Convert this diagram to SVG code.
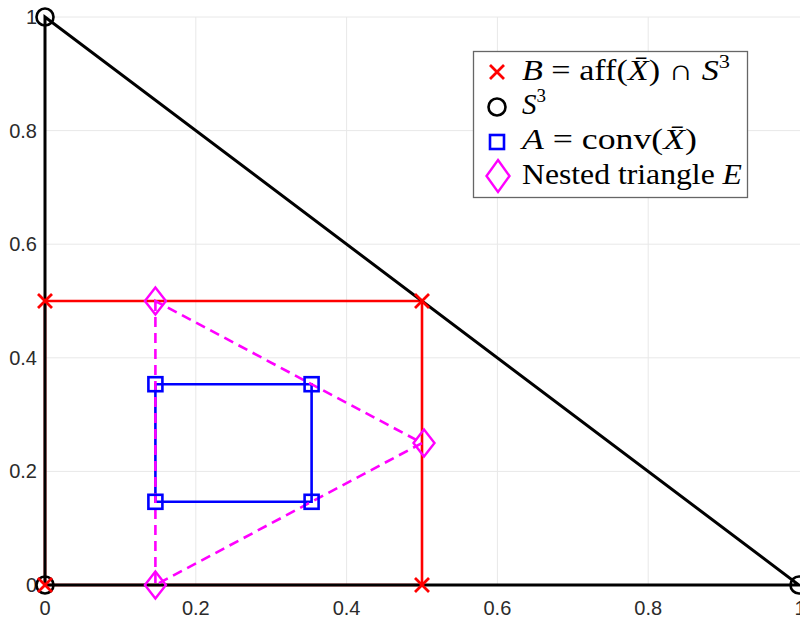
<svg xmlns="http://www.w3.org/2000/svg" width="800" height="619" viewBox="0 0 800 619">
<style>
.grid{stroke:#e8e8e8;stroke-width:1;fill:none}
.tick{font-family:"Liberation Sans",Arial,sans-serif;font-size:20px;fill:#2b2b2b}
.tx{text-anchor:middle}
.ty{text-anchor:end;dominant-baseline:central}
.blk{stroke:#000;stroke-width:3;fill:none}
.red{stroke:#f00;stroke-width:2.6;fill:none}
.blu{stroke:#00f;stroke-width:2.6;fill:none}
.mag{stroke:#f0f;stroke-width:2.6;fill:none;stroke-dasharray:10,6}
.mk-x{stroke:#f00;stroke-width:2.8;fill:none}
.mk-o{stroke:#000;stroke-width:2.6;fill:none}
.mk-s{stroke:#00f;stroke-width:2.6;fill:none}
.mk-d{stroke:#f0f;stroke-width:2.4;fill:none}
.leg{font-family:"Liberation Serif","Times New Roman",serif;font-size:29px;fill:#000}
.it{font-style:italic}
</style>
<defs>
<path id="mx" d="M-7,-7L7,7M-7,7L7,-7"/>
<circle id="mo" r="8.5"/>
<rect id="ms" x="-7" y="-7" width="14" height="14"/>
<path id="md" d="M0,-13.5L10.5,0L0,13.5L-10.5,0Z"/>
</defs>
<rect width="800" height="619" fill="#fff"/>
<g id="grid" class="grid">
<path d="M195.8,17V585M346.6,17V585M497.4,17V585M648.2,17V585M45,17H800M45,471.4H800M45,357.8H800M45,244.2H800M45,130.6H800"/>
</g>
<g id="ticks">
<text class="tick tx" x="45" y="615">0</text>
<text class="tick tx" x="195.8" y="615">0.2</text>
<text class="tick tx" x="346.6" y="615">0.4</text>
<text class="tick tx" x="497.4" y="615">0.6</text>
<text class="tick tx" x="648.2" y="615">0.8</text>
<text class="tick tx" x="800" y="615">1</text>
<text class="tick ty" x="37" y="585">0</text>
<text class="tick ty" x="37" y="471.4">0.2</text>
<text class="tick ty" x="37" y="357.8">0.4</text>
<text class="tick ty" x="37" y="244.2">0.6</text>
<text class="tick ty" x="37" y="130.6">0.8</text>
<text class="tick ty" x="37" y="17">1</text>
</g>
<g id="connectors">
<path class="red" d="M45,585H422V301H45Z"/>
<path class="blk" d="M45,585L45,17L799,585Z"/>
<path class="blu" d="M155.4,501.8H311.6V384.2H155.4Z"/>
<path class="mag" d="M155.4,301L155.4,585L422,443Z"/>
</g>
<g id="S3">
<use href="#mo" class="mk-o" x="45" y="585"/>
<use href="#mo" class="mk-o" x="799" y="585"/>
<use href="#mo" class="mk-o" x="45" y="17"/>
</g>
<g id="B">
<use href="#mx" class="mk-x" x="45" y="585"/>
<use href="#mx" class="mk-x" x="422" y="585"/>
<use href="#mx" class="mk-x" x="422" y="301"/>
<use href="#mx" class="mk-x" x="45" y="301"/>
</g>
<g id="A">
<use href="#ms" class="mk-s" x="155.4" y="501.8"/>
<use href="#ms" class="mk-s" x="311.6" y="501.8"/>
<use href="#ms" class="mk-s" x="311.6" y="384.2"/>
<use href="#ms" class="mk-s" x="155.4" y="384.2"/>
</g>
<g id="E">
<use href="#md" class="mk-d" x="155.4" y="301"/>
<use href="#md" class="mk-d" x="155.4" y="585"/>
<use href="#md" class="mk-d" x="424" y="443"/>
</g>
<g id="legend">
<rect x="473.5" y="51.5" width="274" height="146" fill="#fff" stroke="#666" stroke-width="1.3"/>
<use href="#mx" class="mk-x" x="497" y="72"/>
<use href="#mo" class="mk-o" x="497" y="107"/>
<use href="#ms" class="mk-s" x="497" y="142"/>
<path class="mk-d" d="M498,160L509.5,176L498,192L486.5,176Z"/>
<text class="leg" x="522" y="80" textLength="208" lengthAdjust="spacingAndGlyphs"><tspan class="it">B</tspan> = aff(<tspan class="it">X̄</tspan>) ∩ <tspan class="it">S</tspan><tspan font-size="19" dy="-12">3</tspan></text>
<text class="leg" x="522" y="114"><tspan class="it">S</tspan><tspan font-size="19" dy="-12">3</tspan></text>
<text class="leg" x="522" y="149" textLength="175" lengthAdjust="spacingAndGlyphs"><tspan class="it">A</tspan> = conv(<tspan class="it">X̄</tspan>)</text>
<text class="leg" x="522" y="184" textLength="220" lengthAdjust="spacingAndGlyphs">Nested triangle <tspan class="it">E</tspan></text>
</g>
</svg>
